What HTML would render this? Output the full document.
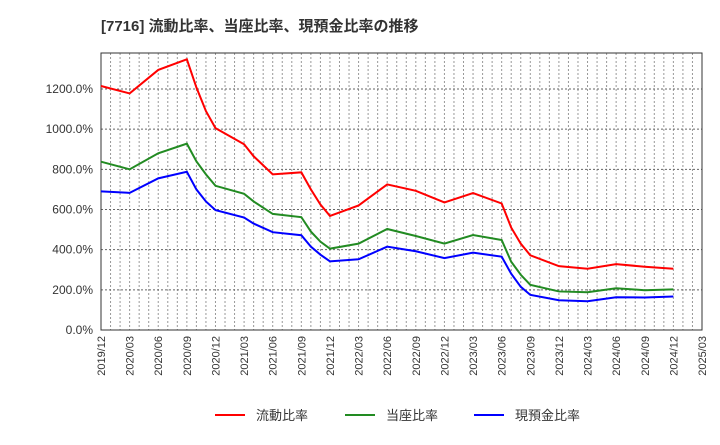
<!DOCTYPE html>
<html><head><meta charset="utf-8"><style>
body{margin:0;background:#fff;font-family:"Liberation Sans","Noto Sans CJK JP",sans-serif;}
svg text{font-family:"Liberation Sans","Noto Sans CJK JP",sans-serif;}
</style></head><body>
<svg id="chart" width="720" height="440" xmlns="http://www.w3.org/2000/svg">
<text x="101" y="31" font-size="15" font-weight="bold" fill="#333">[7716]  流動比率、当座比率、現預金比率の推移</text>
<g id="grid"></g>
<rect x="101" y="53" width="601" height="277" fill="none" stroke="#333" stroke-width="1"/>
<g id="series"></g>
<g id="axes"></g>
<g>
<line x1="215" y1="415" x2="245" y2="415" stroke="#f00" stroke-width="2"/><text x="256" y="420" font-size="13" fill="#333">流動比率</text>
<line x1="345" y1="415" x2="375" y2="415" stroke="#228b22" stroke-width="2"/><text x="386" y="420" font-size="13" fill="#333">当座比率</text>
<line x1="474" y1="415" x2="504" y2="415" stroke="#00f" stroke-width="2"/><text x="515" y="420" font-size="13" fill="#333">現預金比率</text>
</g>
</svg>
<script>
const xTickLabels=["2019/12","2020/03","2020/06","2020/09","2020/12","2021/03","2021/06","2021/09","2021/12","2022/03","2022/06","2022/09","2022/12","2023/03","2023/06","2023/09","2023/12","2024/03","2024/06","2024/09","2024/12","2025/03"];
const yTicks=[0,200,400,600,800,1000,1200];
const months=[0,3,6,9,10,11,12,15,16,18,21,22,23,24,27,30,33,36,39,42,43,44,45,48,51,54,57,60];
const currentRatio=[1215,1178,1295,1348,1208,1090,1005,925,865,775,785,700,625,568,620,725,693,635,682,630,510,430,372,318,305,328,315,305];
const quickRatio=[838,800,880,928,840,775,718,678,640,578,562,490,440,405,430,503,468,430,473,448,340,275,225,192,188,208,198,202];
const cashRatio=[690,683,755,788,700,640,597,560,530,487,472,415,375,342,352,415,392,358,385,365,280,215,175,148,143,163,162,167];
const NS="http://www.w3.org/2000/svg";
const X0=101,X1=702,Y0=330,Y1200=89,MAXM=63;
function xS(m){return X0+(X1-X0)*m/MAXM;}
function yS(v){return Y0-(Y0-Y1200)*v/1200;}
const grid=document.getElementById('grid'),axes=document.getElementById('axes'),ser=document.getElementById('series');
for(let m=1;m<MAXM;m++){const l=document.createElementNS(NS,'line');


l.setAttribute('x1',xS(m));l.setAttribute('x2',xS(m));l.setAttribute('y1',53);l.setAttribute('y2',330);l.setAttribute('stroke','#999');l.setAttribute('stroke-dasharray','2,2');grid.appendChild(l);}
yTicks.forEach(v=>{if(v>0){const l=document.createElementNS(NS,'line');


l.setAttribute('x1',X0);l.setAttribute('x2',X1);l.setAttribute('y1',yS(v));l.setAttribute('y2',yS(v));l.setAttribute('stroke','#666');l.setAttribute('stroke-dasharray','2,2');grid.appendChild(l);}
const t=document.createElementNS(NS,'text');


t.setAttribute('x',93);t.setAttribute('y',yS(v)+4);t.setAttribute('text-anchor','end');t.setAttribute('font-size','12');t.setAttribute('fill','#333');t.textContent=v.toFixed(1)+'%';axes.appendChild(t);});
xTickLabels.forEach((s,i)=>{const x=xS(i*3);const t=document.createElementNS(NS,'text');


t.setAttribute('transform','translate('+(x+4)+',336) rotate(-90)');t.setAttribute('text-anchor','end');t.setAttribute('font-size','11');t.setAttribute('fill','#333');t.textContent=s;axes.appendChild(t);});
[[currentRatio,'#f00','current-ratio-line'],[quickRatio,'#228b22','quick-ratio-line'],[cashRatio,'#00f','cash-ratio-line']].forEach(([d,c,n])=>{
const p=document.createElementNS(NS,'polyline');


p.setAttribute('points',d.map((v,i)=>xS(months[i])+','+yS(v)).join(' '));p.setAttribute('fill','none');p.setAttribute('stroke',c);p.setAttribute('stroke-width','2');ser.appendChild(p);});
</script>
</body></html>
